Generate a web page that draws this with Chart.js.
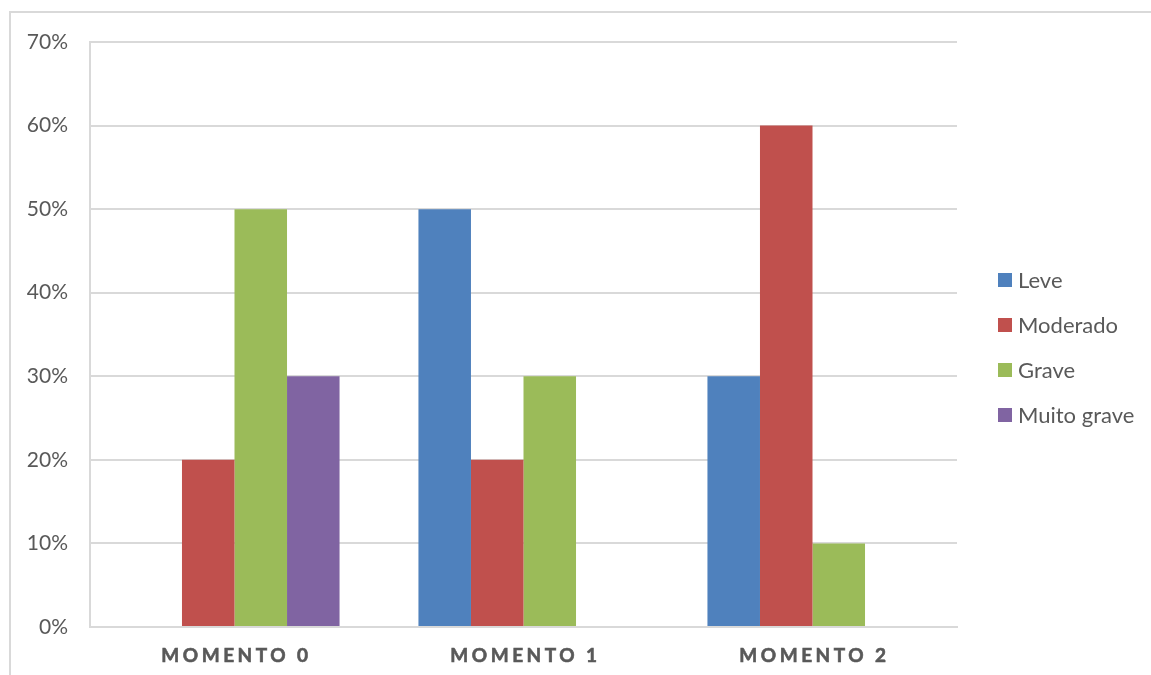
<!DOCTYPE html>
<html>
<head>
<meta charset="utf-8">
<script src="https://cdn.jsdelivr.net/npm/chart.js@4/dist/chart.umd.min.js"></script>
<style>
  html, body { margin: 0; padding: 0; background: #fff; overflow: hidden; }
  #wrap { position: relative; width: 1151px; height: 675px; }
  #frame { position: absolute; left: 9px; top: 11px; width: 1200px; height: 700px;
           border-top: 2px solid #d9d9d9; border-left: 2px solid #d9d9d9; }
  #myChart { position: absolute; left: 0; top: 0; }
</style>
</head>
<body>
<div id="wrap">
  <div id="frame"></div>
  <canvas id="myChart" width="1151" height="675"></canvas>
</div>
<script>
var momentos = ['MOMENTO 0', 'MOMENTO 1', 'MOMENTO 2'];
var leve = [0, 50, 30];
var moderado = [20, 20, 60];
var grave = [50, 30, 10];
var muitoGrave = [30, 0, 0];
var yTicks = [0, 10, 20, 30, 40, 50, 60, 70];

var textColor = '#595959';
var gridColor = '#d9d9d9';

/* ---------chart setup--------- */
var data = {
    labels: momentos,
    datasets: [
        { label: 'Leve', data: leve, backgroundColor: '#4f81bd' },
        { label: 'Moderado', data: moderado, backgroundColor: '#c0504d' },
        { label: 'Grave', data: grave, backgroundColor: '#9bbb59' },
        { label: 'Muito grave', data: muitoGrave, backgroundColor: '#8064a2' }
    ]
};

// category labels with letter spacing (canvas letterSpacing)
const spacedLabels = {
    id: 'spacedLabels',
    afterDraw(chart){
        const {ctx, scales: {x}, chartArea} = chart;
        ctx.save();
        ctx.font = 'bold 19px Lato';
        ctx.fillStyle = textColor;
        ctx.strokeStyle = textColor;
        ctx.lineWidth = 0.6;
        ctx.letterSpacing = '3.5px';
        ctx.textAlign = 'center';
        ctx.textBaseline = 'middle';
        chart.data.labels.forEach(function(lbl, i){
            let px = x.getPixelForTick(i) + 2;
            ctx.fillText(lbl, px, chartArea.bottom + 29);
            ctx.strokeText(lbl, px, chartArea.bottom + 29);
        });
        ctx.restore();
    }
};

// legend on the right
const sideLegend = {
    id: 'sideLegend',
    afterDraw(chart){
        const {ctx, chartArea} = chart;
        ctx.save();
        ctx.font = '22px Lato';
        ctx.textBaseline = 'middle';
        let x0 = chartArea.right + 41;
        let y0 = 280;
        chart.data.datasets.forEach(function(ds, i){
            let y = y0 + i * 45;
            ctx.fillStyle = ds.backgroundColor;
            ctx.fillRect(x0, y - 7, 14, 14);
            ctx.fillStyle = textColor;
            ctx.fillText(ds.label, x0 + 20, y + 1);
        });
        ctx.restore();
    }
};

const config = {
    type: 'bar',
    data,
    plugins: [spacedLabels, sideLegend],
    options: {
        responsive: false,
        animation: false,
        layout: { padding: { left: 10, top: 42, right: 194, bottom: 0 } },
        datasets: {
            bar: { categoryPercentage: 0.727, barPercentage: 1.0 }
        },
        plugins: {
            legend: { display: false },
            tooltip: { enabled: false }
        },
        scales: {
            y: {
                min: 0,
                max: 70,
                afterFit: function(s){ s.width = 80; },
                afterBuildTicks: function(s){ s.ticks = yTicks.map(function(v){ return { value: v }; }); },
                ticks: {
                    padding: 22,
                    color: textColor,
                    font: { family: 'Lato', size: 21 },
                    callback: function(v){ return v + '%'; }
                },
                grid: { color: gridColor, lineWidth: 2, drawTicks: false },
                border: { display: true, color: gridColor, width: 2 }
            },
            x: {
                afterFit: function(s){ s.height = 48; },
                ticks: { display: false },
                grid: { display: false },
                border: { display: true, color: gridColor, width: 2 }
            }
        }
    }
};

var myChart = new Chart(document.getElementById('myChart'), config);
</script>
</body>
</html>
